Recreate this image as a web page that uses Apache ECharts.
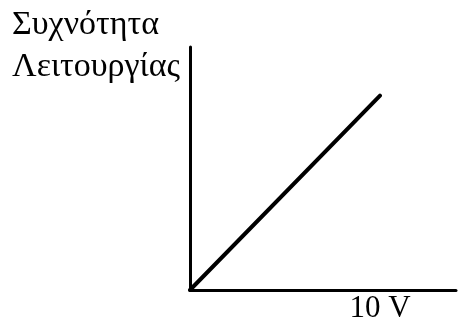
<!DOCTYPE html>
<html>
<head>
<meta charset="utf-8">
<style>
  html, body { margin: 0; padding: 0; background: #fff; }
  #chart { width: 459px; height: 325px; }
</style>
<script src="https://cdn.jsdelivr.net/npm/echarts@6/dist/echarts.min.js"></script>
</head>
<body>
<div id="chart"></div>
<script>
// Operating frequency rises linearly with the applied voltage
const voltage = [0, 10];
const frequency = [0, 8];
const yTitle = 'Συχνότητα\nΛειτουργίας';
const xTickLabel = '10 V';

const serif = '"Liberation Serif", "Times New Roman", serif';
const chart = echarts.init(document.getElementById('chart'), null, { renderer: 'canvas' });

chart.setOption({
  animation: false,
  backgroundColor: '#fff',
  title: {
    text: yTitle,
    left: 7,
    top: -1,
    textStyle: {
      fontFamily: serif,
      fontWeight: 'normal',
      fontSize: 34,
      lineHeight: 42,
      color: '#000'
    }
  },
  grid: { left: 190, right: 1, top: 47, bottom: 35 },
  xAxis: {
    type: 'value',
    min: 0,
    max: 14,
    interval: 10,
    axisLine: { show: true, onZero: false, lineStyle: { color: '#000', width: 3 } },
    axisTick: { show: false },
    splitLine: { show: false },
    axisLabel: {
      formatter: v => (v === 10 ? xTickLabel : ''),
      fontFamily: serif,
      fontSize: 31,
      color: '#000',
      margin: 3
    }
  },
  yAxis: {
    type: 'value',
    min: 0,
    max: 10,
    axisLine: { show: true, onZero: false, lineStyle: { color: '#000', width: 3 } },
    axisTick: { show: false },
    splitLine: { show: false },
    axisLabel: { show: false }
  },
  series: [{
    type: 'line',
    data: voltage.map((v, i) => [v, frequency[i]]),
    symbol: 'none',
    lineStyle: { color: '#000', width: 4, cap: 'round' }
  }]
});
</script>
</body>
</html>
